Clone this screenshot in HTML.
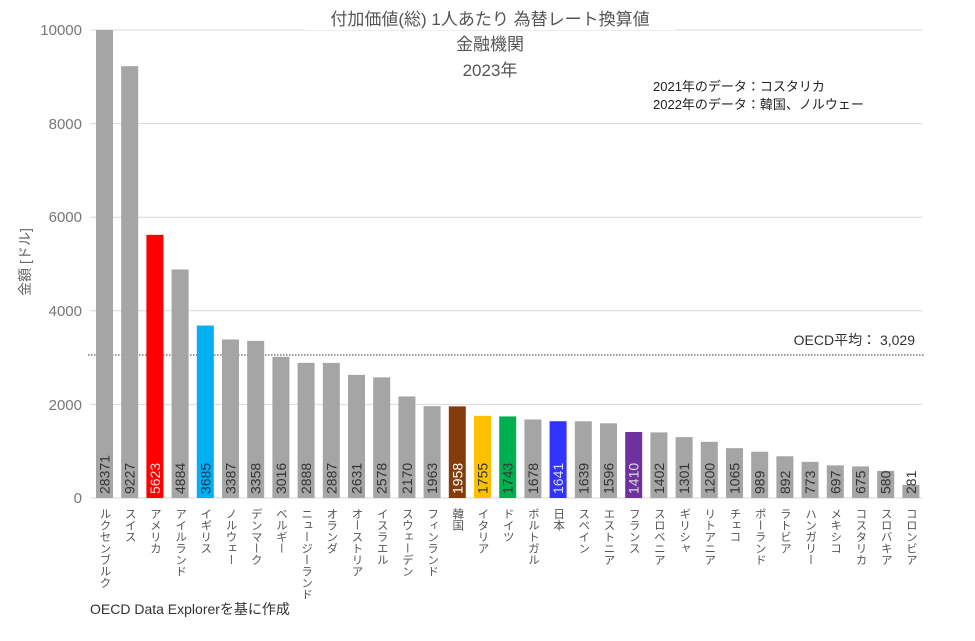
<!DOCTYPE html>
<html><head><meta charset="utf-8"><style>
body{margin:0;background:#fff}
svg text{font-family:"Liberation Sans","Noto Sans CJK JP",sans-serif}
</style></head><body>
<svg width="975" height="636" viewBox="0 0 975 636" xmlns="http://www.w3.org/2000/svg">
<g stroke="#d9d9d9" stroke-width="1">
<line x1="90" y1="30" x2="922" y2="30"/>
<line x1="90" y1="123.6" x2="922" y2="123.6"/>
<line x1="90" y1="217.2" x2="922" y2="217.2"/>
<line x1="90" y1="310.8" x2="922" y2="310.8"/>
<line x1="90" y1="404.4" x2="922" y2="404.4"/>
<line x1="90" y1="498" x2="922" y2="498"/>
</g>
<g fill="#777" font-size="15" text-anchor="end">
<text x="82" y="35">10000</text><text x="82" y="129">8000</text><text x="82" y="222">6000</text>
<text x="82" y="316">4000</text><text x="82" y="410">2000</text><text x="82" y="503">0</text>
</g>
<text transform="translate(30,262) rotate(-90)" text-anchor="middle" font-size="14" fill="#666">金額 [ドル]</text>
<rect x="305" y="8" width="370" height="22" fill="#fff"/>
<g text-anchor="middle" font-size="17" fill="#555">
<text x="490" y="25">付加価値(総) 1人あたり 為替レート換算値</text>
<text x="490" y="50">金融機関</text>
<text x="490" y="76">2023年</text>
</g>
<g font-size="13" fill="#222">
<text x="653" y="91">2021年のデータ：コスタリカ</text>
<text x="653" y="109">2022年のデータ：韓国、ノルウェー</text>
</g>
<text x="915" y="345" text-anchor="end" font-size="14" fill="#333">OECD平均： 3,029</text>
<line x1="88" y1="355" x2="925" y2="355" stroke="#333" stroke-width="1" stroke-dasharray="1.5,1.5"/>
<g id="bars"></g>
<text x="90" y="614" font-size="14" fill="#333">OECD Data Explorerを基に作成</text>
</svg>
<script>
var d=[["ルクセンブルク",28371],["スイス",9227],["アメリカ",5623,"#ff0000","#fdd"],["アイルランド",4884],["イギリス",3685,"#00b0f0","#135"],["ノルウェー",3387],["デンマーク",3358],["ベルギー",3016],["ニュージーランド",2888],["オランダ",2887],["オーストリア",2631],["イスラエル",2578],["スウェーデン",2170],["フィンランド",1963],["韓国",1958,"#843c0c","#fff"],["イタリア",1755,"#ffc000"],["ドイツ",1743,"#00b050"],["ポルトガル",1678],["日本",1641,"#3333ff","#ddf"],["スペイン",1639],["エストニア",1596],["フランス",1410,"#7030a0","#ddd"],["スロベニア",1402],["ギリシャ",1301],["リトアニア",1200],["チェコ",1065],["ポーランド",989],["ラトビア",892],["ハンガリー",773],["メキシコ",697],["コスタリカ",675],["スロバキア",580],["コロンビア",281]];
var s="";
d.forEach(function(e,i){var x=96+i*25.2,v=Math.min(e[1],10000),h=v*0.0468,c=e[2]||"#a5a5a5",tc=e[3]||"#333",cx=x+8.5;
s+='<rect x="'+x+'" y="'+(498-h)+'" width="17" height="'+h+'" fill="'+c+'"/>';
s+='<text transform="translate('+(cx+5)+',494) rotate(-90)" font-size="14" fill="'+tc+'">'+e[1]+'</text>';
s+='<text x="'+cx+'" y="508" font-size="11.5" fill="#555" style="writing-mode:vertical-rl;glyph-orientation-vertical:0">'+e[0]+'</text>';});
document.getElementById("bars").innerHTML=s;
</script>
</body></html>
